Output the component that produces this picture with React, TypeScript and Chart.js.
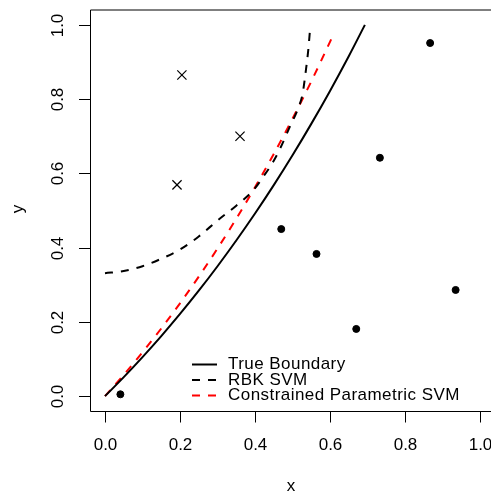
import React, { useEffect, useRef } from "react";
import { Chart, registerables } from "chart.js";

Chart.register(...registerables);

// True boundary
const trueX = [0, 0.05, 0.1, 0.15, 0.2, 0.25, 0.3, 0.35, 0.4, 0.45, 0.5, 0.55, 0.6, 0.65, 0.693];
const trueY = [0, 0.0513, 0.1052, 0.1618, 0.2214, 0.284, 0.3499, 0.4191, 0.4918, 0.5683, 0.6487, 0.7333, 0.8221, 0.9155, 1.0];

// RBK SVM
const rbkX = [0, 0.05, 0.1, 0.15, 0.2, 0.25, 0.3, 0.35, 0.396, 0.422, 0.446, 0.467, 0.493, 0.515, 0.527, 0.536, 0.542, 0.547];
const rbkY = [0.331, 0.337, 0.35, 0.37, 0.395, 0.43, 0.473, 0.513, 0.555, 0.591, 0.627, 0.667, 0.726, 0.775, 0.815, 0.88, 0.932, 0.99];

// Constrained Parametric SVM
const cpX = [0, 0.05, 0.1, 0.15, 0.2, 0.25, 0.3, 0.35, 0.4, 0.45, 0.5, 0.55, 0.612];
const cpY = [0, 0.0574, 0.1181, 0.1822, 0.2501, 0.3218, 0.3977, 0.4779, 0.5627, 0.6524, 0.7472, 0.8475, 0.98];

// Class points
const crossX = [0.205, 0.36, 0.192];
const crossY = [0.865, 0.7, 0.569];
const dotX = [0.867, 0.733, 0.47, 0.564, 0.935, 0.67, 0.041];
const dotY = [0.951, 0.642, 0.45, 0.383, 0.286, 0.181, 0.005];

const tickValues = [0, 0.2, 0.4, 0.6, 0.8, 1.0];
const tickLabels = ["0.0", "0.2", "0.4", "0.6", "0.8", "1.0"];
const legendLabels = ["True Boundary", "RBK SVM", "Constrained Parametric SVM"];

const zip = (xs: number[], ys: number[]) => xs.map((x, i) => ({ x, y: ys[i] }));

const FONT = '17px "Liberation Sans", Arial, Helvetica, sans-serif';

const axesPlugin = {
  id: "rAxes",
  afterDraw(chart: any) {
    const ctx = chart.ctx;
    const { left, top, bottom } = chart.chartArea;
    const xs = chart.scales.x;
    const ys = chart.scales.y;
    ctx.save();
    ctx.strokeStyle = "#000";
    ctx.lineWidth = 1;
    // box (right side lies outside the picture)
    ctx.beginPath();
    ctx.moveTo(495, top);
    ctx.lineTo(left + 0.5, top);
    ctx.lineTo(left + 0.5, bottom + 0.5);
    ctx.lineTo(495, bottom + 0.5);
    ctx.stroke();

    ctx.fillStyle = "#000";
    ctx.font = FONT;
    // x axis
    ctx.textAlign = "center";
    ctx.textBaseline = "middle";
    tickValues.forEach((v, i) => {
      const px = Math.round(xs.getPixelForValue(v)) + 0.5;
      ctx.beginPath();
      ctx.moveTo(px, bottom + 0.5);
      ctx.lineTo(px, bottom + 11.5);
      ctx.stroke();
      ctx.fillText(tickLabels[i], px, 445);
    });
    // y axis
    tickValues.forEach((v, i) => {
      const py = Math.round(ys.getPixelForValue(v)) + 0.5;
      ctx.beginPath();
      ctx.moveTo(left - 11, py);
      ctx.lineTo(left + 0.5, py);
      ctx.stroke();
      ctx.save();
      ctx.translate(58, py);
      ctx.rotate(-Math.PI / 2);
      ctx.fillText(tickLabels[i], 0, 0);
      ctx.restore();
    });
    // axis titles
    ctx.fillText("x", 291, 486);
    ctx.save();
    ctx.translate(18, 209);
    ctx.rotate(-Math.PI / 2);
    ctx.fillText("y", 0, 0);
    ctx.restore();

    // legend
    const rows = [364.5, 380, 395.5];
    const styles = [
      { color: "#000", dash: [] as number[] },
      { color: "#000", dash: [8, 8] },
      { color: "#ff0000", dash: [8, 8] },
    ];
    ctx.textAlign = "left";
    try { (ctx as any).letterSpacing = "0.45px"; } catch (e) {}
    rows.forEach((ry, i) => {
      ctx.save();
      ctx.strokeStyle = styles[i].color;
      ctx.lineWidth = 2;
      ctx.setLineDash(styles[i].dash);
      ctx.beginPath();
      ctx.moveTo(192, ry);
      ctx.lineTo(217, ry);
      ctx.stroke();
      ctx.restore();
      ctx.fillText(legendLabels[i], 228, ry);
    });
    ctx.restore();
  },
};

export default function App() {
  const ref = useRef<HTMLCanvasElement>(null);
  useEffect(() => {
    if (!ref.current) return;
    const chart = new Chart(ref.current, {
      type: "scatter",
      data: {
        datasets: [
          {
            label: legendLabels[0],
            data: zip(trueX, trueY),
            showLine: true,
            borderColor: "#000",
            borderWidth: 2,
            pointRadius: 0,
            cubicInterpolationMode: "monotone",
          },
          {
            label: legendLabels[1],
            data: zip(rbkX, rbkY),
            showLine: true,
            borderColor: "#000",
            borderWidth: 2,
            borderDash: [8, 8],
            pointRadius: 0,
            cubicInterpolationMode: "monotone",
          },
          {
            label: legendLabels[2],
            data: zip(cpX, cpY),
            showLine: true,
            borderColor: "#ff0000",
            borderWidth: 2,
            borderDash: [8, 8],
            pointRadius: 0,
            cubicInterpolationMode: "monotone",
          },
          {
            label: "class1",
            data: zip(crossX, crossY),
            pointStyle: "crossRot",
            pointRadius: 6.5,
            borderColor: "#000",
            borderWidth: 1.2,
          },
          {
            label: "class2",
            data: zip(dotX, dotY),
            pointStyle: "circle",
            pointRadius: 3.5,
            backgroundColor: "#000",
            borderColor: "#000",
            borderWidth: 1,
          },
        ],
      } as any,
      options: {
        responsive: false,
        animation: false,
        layout: { autoPadding: false, padding: { left: 90, top: 10, right: 0, bottom: 82 } },
        plugins: { legend: { display: false }, tooltip: { enabled: false } },
        scales: {
          x: { type: "linear", min: -0.04, max: 1.0293, display: false },
          y: { type: "linear", min: -0.04, max: 1.04, display: false },
        },
      } as any,
      plugins: [axesPlugin],
    });
    return () => chart.destroy();
  }, []);
  return (
    <div style={{ position: "fixed", left: 0, top: 0, width: 491, height: 493, background: "#fff" }}>
      <canvas ref={ref} width={491} height={493} style={{ display: "block" }} />
    </div>
  );
}
